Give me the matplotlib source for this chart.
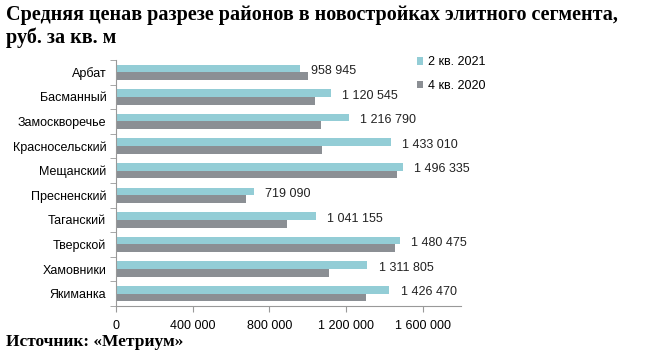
import matplotlib
matplotlib.use('Agg')
import matplotlib.pyplot as plt
import numpy as np

districts = ['Арбат', 'Басманный', 'Замоскворечье', 'Красносельский', 'Мещанский',
             'Пресненский', 'Таганский', 'Тверской', 'Хамовники', 'Якиманка']
q2_2021 = [958945, 1120545, 1216790, 1433010, 1496335, 719090, 1041155, 1480475, 1311805, 1426470]
q4_2020 = [1002000, 1039000, 1070000, 1076000, 1467000, 679000, 893000, 1455000, 1111000, 1304000]
xticks = [0, 400000, 800000, 1200000, 1600000]

def fmt(v):
    return '{:,}'.format(v).replace(',', ' ')

plt.rcParams['font.family'] = ['Liberation Sans', 'DejaVu Sans']

fig = plt.figure(figsize=(6.68, 3.57), dpi=100)
ax = fig.add_axes([116/668, 1 - 306/357, (461-116)/668, (306-60)/357])

y = np.arange(len(districts))
h = 0.31
teal = '#93cdd6'
gray = '#8b8f94'
ax.barh(y - h/2, q2_2021, height=h, color=teal, label='2 кв. 2021')
ax.barh(y + h/2, q4_2020, height=h, color=gray, label='4 кв. 2020')

for yi, v in zip(y, q2_2021):
    ax.annotate(fmt(v), (v, yi - 0.05), xytext=(8, 0), textcoords='offset points',
                va='center', ha='left', fontsize=9, color='#222222')

ax.set_ylim(len(districts) - 0.5, -0.5)
ax.set_xlim(0, 1800000)
ax.set_yticks(y)
ax.set_yticklabels(districts, fontsize=9)
ax.set_yticks(np.arange(-0.5, len(districts)), minor=True)
ax.tick_params(axis='y', which='major', length=0, pad=7)
ax.tick_params(axis='y', which='minor', length=4, color='#999999')
ax.set_xticks(xticks)
ax.set_xticklabels([fmt(t) for t in xticks], fontsize=9)
ax.tick_params(axis='x', length=4, color='#999999', pad=6)

for s in ['top', 'right']:
    ax.spines[s].set_visible(False)
for s in ['left', 'bottom']:
    ax.spines[s].set_color('#999999')

ax.legend(loc='upper left', bbox_to_anchor=(0.84, 1.06), frameon=False, fontsize=9,
          handlelength=0.5, handleheight=0.5, handletextpad=0.4, labelspacing=0.9)

fig.text(6/668, 1 - 15/357, 'Средняя ценав разрезе районов в новостройках элитного сегмента,',
         fontsize=14.5, fontweight='bold', family='Liberation Serif', va='center')
fig.text(6/668, 1 - 38/357, 'руб. за кв. м',
         fontsize=14.5, fontweight='bold', family='Liberation Serif', va='center')
fig.text(6/668, 1 - 342/357, 'Источник: «Метриум»',
         fontsize=12.5, fontweight='bold', family='Liberation Serif', va='center')

fig.savefig('out.png', dpi=100)
